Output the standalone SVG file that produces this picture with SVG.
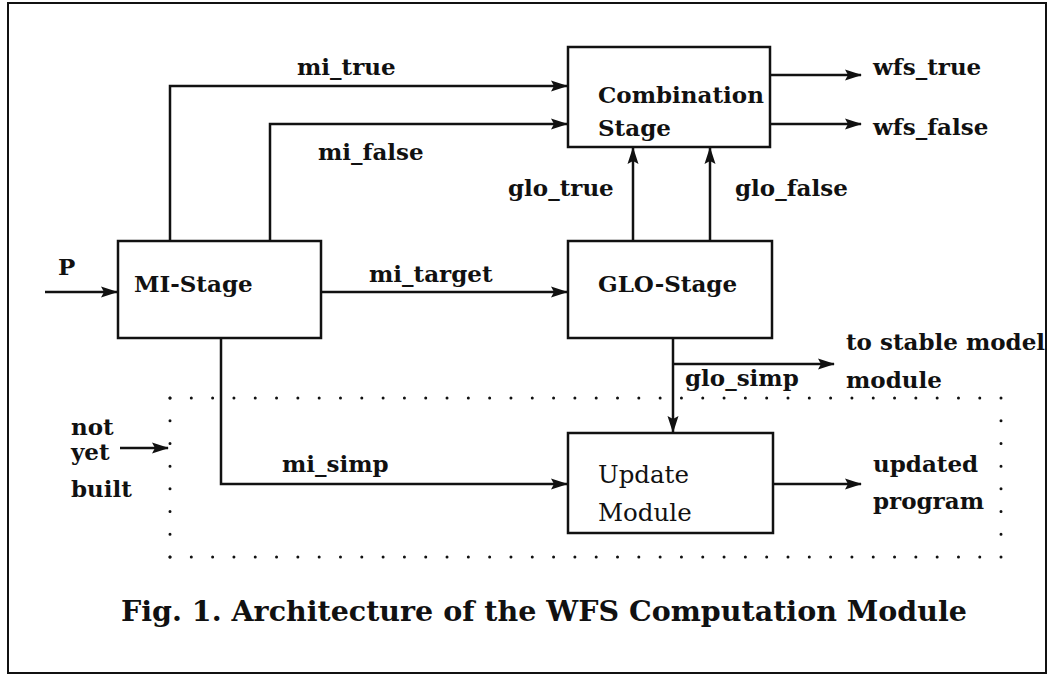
<svg xmlns="http://www.w3.org/2000/svg" width="1050" height="676" viewBox="0 0 1050 676">
<style>
text { font-family: "DejaVu Serif", "Liberation Serif", serif; font-size: 23px; font-weight: bold; fill: #111; }
.reg { font-weight: normal; font-size: 24.5px; }
.cap { font-size: 28.5px; }
.box { fill: #fff; stroke: #111; stroke-width: 2.5; }
.wire { fill: none; stroke: #111; stroke-width: 2.5; }
.arrow { fill: none; stroke: #111; stroke-width: 2.5; marker-end: url(#ah); }
.dots { fill: none; stroke: #111; stroke-width: 3; stroke-linecap: round; }
</style>
<defs>
<marker id="ah" markerUnits="userSpaceOnUse" markerWidth="18" markerHeight="12" refX="16" refY="6" orient="auto">
<path d="M0,0.5 L17,6 L0,11.5 L3,6 Z" fill="#111"/>
</marker>
</defs>
<rect x="8" y="3" width="1038" height="670" fill="#fff" stroke="#111" stroke-width="2"/>

<g id="connectors">
<path class="arrow" d="M170,240 V86 H567"/>
<path class="arrow" d="M270,240 V124 H567"/>
<path class="arrow" d="M770,75 H861"/>
<path class="arrow" d="M770,124 H861"/>
<path class="arrow" d="M633,240 V148"/>
<path class="arrow" d="M710,240 V148"/>
<path class="arrow" d="M45,292 H117"/>
<path class="arrow" d="M321,292 H567"/>
<path class="arrow" d="M673,338 V432"/>
<path class="arrow" d="M673,364 H834"/>
<path class="arrow" d="M221,338 V484 H567"/>
<path class="arrow" d="M773,484 H861"/>
<path class="arrow" d="M120,448 H168"/>
</g>

<g id="not-built-region">
<path class="dots" d="M170,398 H1001" stroke-dasharray="0 21.31"/>
<path class="dots" d="M170,557 H1001" stroke-dasharray="0 21.31"/>
<path class="dots" d="M170,398 V557" stroke-dasharray="0 22.71"/>
<path class="dots" d="M1001,398 V557" stroke-dasharray="0 22.71"/>
</g>

<g id="combination-stage">
<rect class="box" x="568" y="47" width="202" height="100"/>
<text x="598" y="103">Combination</text>
<text x="598" y="136">Stage</text>
</g>
<g id="mi-stage">
<rect class="box" x="118" y="241" width="203" height="97"/>
<text x="134" y="292">MI-Stage</text>
</g>
<g id="glo-stage">
<rect class="box" x="568" y="241" width="204" height="97"/>
<text x="598" y="292">GLO-Stage</text>
</g>
<g id="update-module">
<rect class="box" x="568" y="433" width="205" height="100"/>
<text class="reg" x="598" y="483">Update</text>
<text class="reg" x="598" y="521">Module</text>
</g>

<g id="labels">
<text x="297" y="75">mi_true</text>
<text x="318" y="160">mi_false</text>
<text x="873" y="75">wfs_true</text>
<text x="873" y="135">wfs_false</text>
<text x="508" y="196">glo_true</text>
<text x="735" y="196">glo_false</text>
<text x="58" y="275">P</text>
<text x="369" y="282">mi_target</text>
<text x="846" y="350">to stable model</text>
<text x="846" y="388">module</text>
<text x="685" y="386">glo_simp</text>
<text x="71" y="435">not</text>
<text x="71" y="460">yet</text>
<text x="71" y="497">built</text>
<text x="282" y="472">mi_simp</text>
<text x="873" y="472">updated</text>
<text x="873" y="509">program</text>
<text class="cap" x="121" y="621">Fig. 1. Architecture of the WFS Computation Module</text>
</g>
<line x1="1046" y1="2" x2="1046" y2="674" stroke="#111" stroke-width="2"/>
</svg>
